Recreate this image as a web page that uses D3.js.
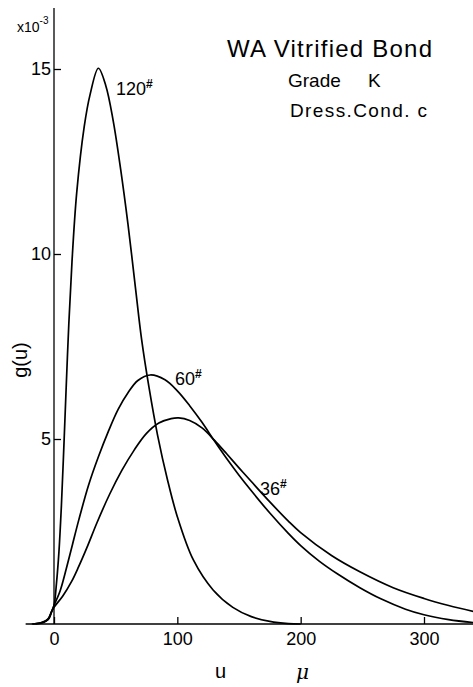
<!DOCTYPE html>
<html>
<meta charset="utf-8">
<style>
body { margin: 0; background: #fff; }
svg { display: block; }
text { font-family: "Liberation Sans", Arial, sans-serif; fill: #000; }
.curve { fill: none; stroke: #000; stroke-width: 1.7; }
.axis line { stroke: #000; stroke-width: 1.3; }
.axis path { display: none; }
</style>
<body>
<svg width="473" height="687"></svg>
<script src="https://d3js.org/d3.v7.min.js"></script>
<script>

// u (micron) and g(u) (x10^-3)
var u120 = [-15, -8, -4, -2, 0, 2, 4, 6, 8, 10, 12, 14.6, 18.4, 24.5, 29.2, 36, 42, 48, 54, 60, 66, 71, 77, 84, 92, 100, 113, 129, 145, 160, 175, 190, 200];
var g120 = [0, 0.05, 0.15, 0.33, 0.5, 1.1, 1.95, 3.2, 4.8, 6.5, 8.1, 9.8, 11.65, 13.44, 14.3, 15.02, 14.55, 13.6, 12.3, 10.8, 9.1, 7.7, 6.4, 5.1, 3.9, 2.9, 1.73, 0.92, 0.45, 0.2, 0.07, 0.01, 0];

var u60 = [-18, -10, -5, -2, 0, 5, 10, 15, 20, 28, 36, 44, 52, 60, 68, 78, 90, 100, 110, 120, 130, 140, 150, 160, 175, 190, 200, 215, 230, 248, 265, 285, 300, 320, 340];
var g60 = [0, 0.04, 0.13, 0.33, 0.5, 0.9, 1.5, 2.15, 2.8, 3.75, 4.52, 5.2, 5.8, 6.25, 6.58, 6.73, 6.6, 6.3, 5.9, 5.45, 4.95, 4.47, 4.02, 3.6, 3.0, 2.45, 2.12, 1.7, 1.35, 0.98, 0.68, 0.4, 0.25, 0.12, 0.04];

var u36 = [-17, -10, -5, -2, 0, 7, 14.3, 20, 26.5, 35, 45, 55, 65, 75, 85, 95, 101, 110, 120, 130, 140, 150, 160, 175, 190, 200, 225, 248, 275, 300, 320, 340];
var g36 = [0, 0.04, 0.12, 0.33, 0.45, 0.75, 1.15, 1.55, 2.05, 2.75, 3.5, 4.15, 4.7, 5.15, 5.43, 5.55, 5.57, 5.5, 5.3, 4.97, 4.6, 4.22, 3.85, 3.3, 2.78, 2.47, 1.85, 1.41, 0.98, 0.69, 0.5, 0.34];

var xTicks = [0, 100, 200, 300];
var yTicks = [5, 10, 15];

var svg = d3.select("svg");

var x = d3.scaleLinear().domain([0, 300]).range([54, 424]);
var y = d3.scaleLinear().domain([0, 15]).range([624, 69]);

// axes lines
svg.append("line").attr("x1", x(-23)).attr("x2", 473).attr("y1", y(0)).attr("y2", y(0))
    .attr("stroke", "#000").attr("stroke-width", 1.3);
svg.append("line").attr("x1", x(0)).attr("x2", x(0)).attr("y1", y(0)).attr("y2", 8)
    .attr("stroke", "#000").attr("stroke-width", 1.3);

svg.append("g")
    .attr("class", "axis")
    .attr("transform", "translate(0," + y(0) + ")")
    .call(d3.axisBottom(x).tickValues(xTicks).tickSize(-7).tickPadding(8))
    .selectAll("text").style("font-size", "18px").style("font-family", "Liberation Sans, Arial, sans-serif");

svg.append("g")
    .attr("class", "axis")
    .attr("transform", "translate(" + x(0) + ",0)")
    .call(d3.axisLeft(y).tickValues(yTicks).tickSize(-7).tickPadding(3))
    .selectAll("text").style("font-size", "18px").style("font-family", "Liberation Sans, Arial, sans-serif");

var line = d3.line()
    .x(function(d) { return x(d[0]); })
    .y(function(d) { return y(d[1]); })
    .curve(d3.curveCatmullRom.alpha(0.5));

function pairs(us, gs) { return us.map(function(u, i) { return [u, gs[i]]; }); }

[[u120, g120], [u60, g60], [u36, g36]].forEach(function(s) {
  svg.append("path").attr("class", "curve").attr("d", line(pairs(s[0], s[1])));
});

// curve labels
function mesh(px, py, num) {
  var t = svg.append("text").attr("x", px).attr("y", py).style("font-size", "18px");
  t.append("tspan").text(num);
  t.append("tspan").attr("dy", -7).style("font-size", "12px").style("font-weight", "bold").text("#");
}
mesh(116, 95, "120");
mesh(175, 385, "60");
mesh(260, 495, "36");

// multiplier
var m = svg.append("text").attr("x", 17).attr("y", 32).style("font-size", "14px");
m.append("tspan").text("x10");
m.append("tspan").attr("dy", -8).style("font-size", "10px").text("-3");

// axis titles
svg.append("text")
    .attr("transform", "translate(27,360) rotate(-90)")
    .attr("text-anchor", "middle")
    .style("font-size", "20px")
    .text("g(u)");

svg.append("text").attr("x", 215).attr("y", 678).style("font-size", "20px").text("u");
svg.append("text").attr("x", 296).attr("y", 679)
    .style("font-size", "20px").style("font-style", "italic")
    .style("font-family", "DejaVu Serif, serif")
    .text("μ");

// annotation
svg.append("text").attr("x", 227).attr("y", 57).attr("textLength", 205)
    .style("font-size", "24px").text("WA Vitrified Bond");
svg.append("text").attr("x", 288).attr("y", 87).style("font-size", "19px").text("Grade");
svg.append("text").attr("x", 368).attr("y", 87).style("font-size", "19px").text("K");
svg.append("text").attr("x", 290).attr("y", 117).attr("textLength", 137)
    .style("font-size", "19px").text("Dress.Cond. c");

</script>
</body>
</html>
